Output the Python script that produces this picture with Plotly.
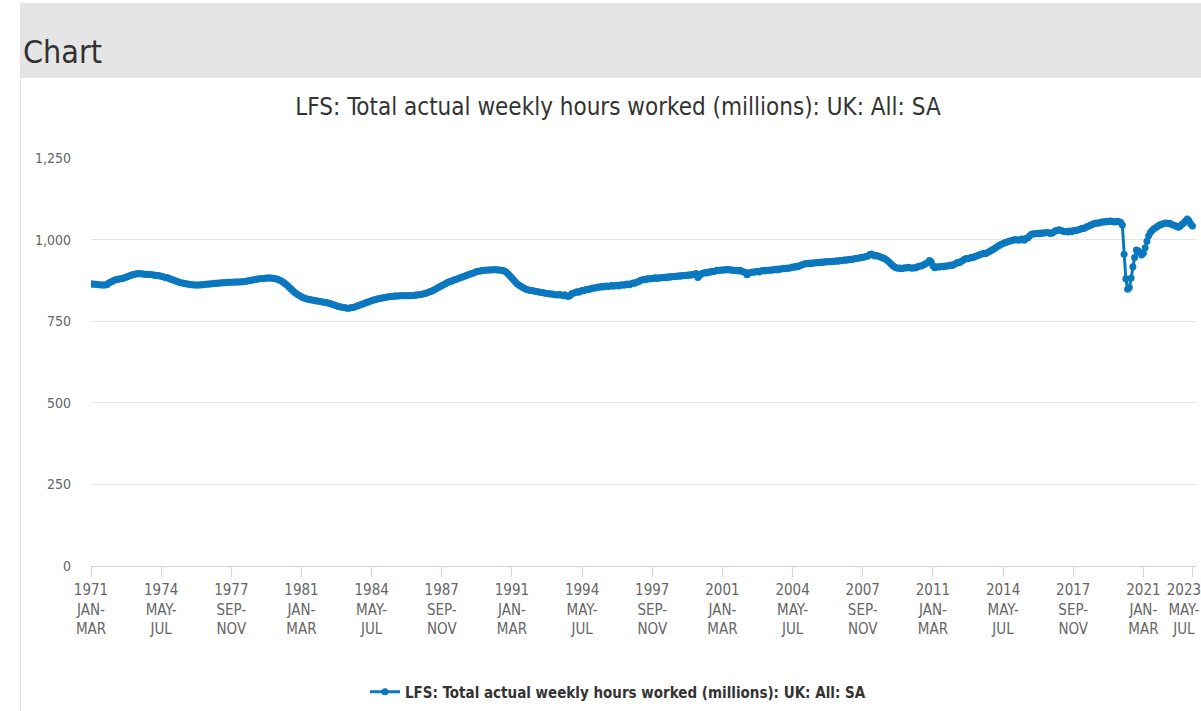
import plotly.graph_objects as go

# Rolling three-month periods, Jan-Mar 1971 to May-Jul 2023 (millions of hours)
hours_1970s = [
    864, 864, 863, 863, 862, 862, 861, 861, 861, 862, 866, 869,  # 1971
    872, 875, 877, 878, 879, 880, 881, 883, 885, 887, 889, 891,  # 1972
    893, 894, 895, 895, 895, 895, 894, 894, 894, 893, 893, 892,  # 1973
    891, 891, 890, 889, 888, 886, 885, 884, 882, 880, 878, 876,  # 1974
    874, 872, 870, 868, 867, 866, 865, 864, 863, 862, 862, 861,  # 1975
    861, 861, 861, 862, 862, 863, 863, 864, 864, 865, 865, 866,  # 1976
    866, 867, 867, 868, 868, 868, 869, 869, 869, 869, 870, 870,  # 1977
    870, 870, 871, 871, 872, 873, 874, 875, 876, 877, 878, 879,  # 1978
    880, 880, 881, 881, 882, 882, 882, 882, 881, 880, 879, 877,  # 1979
]
hours_1980s = [
    875, 872, 868, 864, 859, 854, 849, 844, 839, 835, 831, 828,  # 1980
    825, 822, 820, 818, 817, 816, 815, 814, 813, 812, 811, 810,  # 1981
    809, 808, 807, 806, 805, 803, 801, 799, 797, 795, 794, 793,  # 1982
    792, 791, 790, 790, 791, 792, 793, 795, 797, 799, 801, 803,  # 1983
    805, 807, 809, 811, 813, 815, 816, 818, 819, 820, 821, 822,  # 1984
    823, 824, 825, 826, 826, 827, 827, 827, 828, 828, 828, 828,  # 1985
    828, 828, 828, 829, 829, 830, 830, 831, 832, 833, 834, 836,  # 1986
    838, 840, 842, 844, 847, 850, 853, 856, 859, 862, 865, 868,  # 1987
    870, 872, 874, 876, 878, 880, 882, 884, 886, 888, 890, 892,  # 1988
    894, 896, 898, 900, 902, 903, 904, 905, 906, 906, 907, 907,  # 1989
]
hours_1990s = [
    907, 908, 908, 908, 907, 907, 906, 905, 903, 899, 894, 888,  # 1990
    882, 876, 870, 865, 861, 857, 854, 851, 848, 846, 845, 844,  # 1991
    843, 842, 841, 840, 839, 838, 837, 836, 835, 834, 833, 833,  # 1992
    832, 831, 830, 832, 830, 829, 831, 828, 826, 828, 834, 836,  # 1993
    838, 840, 839, 842, 844, 843, 846, 848, 847, 850, 852, 851,  # 1994
    853, 855, 854, 856, 855, 857, 858, 856, 858, 859, 857, 859,  # 1995
    860, 858, 861, 862, 860, 863, 864, 862, 865, 867, 866, 869,  # 1996
    871, 874, 876, 878, 877, 880, 879, 881, 880, 882, 883, 881,  # 1997
    883, 882, 884, 885, 883, 886, 885, 887, 886, 888, 887, 889,  # 1998
    888, 890, 889, 891, 890, 892, 891, 893, 894, 896, 884, 890,  # 1999
]
hours_2000s = [
    895, 897, 899, 898, 901, 900, 903, 902, 904, 906, 905, 907,  # 2000
    906, 908, 907, 909, 908, 906, 907, 905, 906, 904, 906, 903,  # 2001
    901, 900, 892, 897, 899, 901, 900, 902, 903, 901, 904, 905,  # 2002
    904, 906, 905, 907, 906, 908, 909, 907, 910, 909, 911, 912,  # 2003
    911, 913, 912, 914, 916, 915, 918, 917, 920, 922, 924, 926,  # 2004
    927, 926, 928, 927, 929, 928, 930, 929, 931, 930, 932, 931,  # 2005
    932, 933, 932, 934, 933, 935, 934, 936, 935, 937, 938, 937,  # 2006
    939, 940, 939, 941, 942, 943, 944, 945, 946, 947, 948, 950,  # 2007
    954, 956, 953, 950, 951, 949, 947, 945, 943, 940, 936, 931,  # 2008
    926, 921, 917, 914, 912, 913, 911, 912, 914, 913, 915, 914,  # 2009
]
hours_2010s = [
    912, 914, 913, 916, 918, 919, 921, 924, 927, 930, 936, 932,  # 2010
    920, 914, 916, 917, 916, 918, 917, 919, 918, 920, 922, 921,  # 2011
    924, 927, 930, 929, 933, 936, 940, 942, 941, 944, 946, 945,  # 2012
    948, 950, 952, 954, 956, 958, 957, 960, 963, 966, 969, 972,  # 2013
    976, 980, 983, 986, 988, 990, 992, 994, 996, 997, 999, 1000,  # 2014
    999, 998, 1000, 1002, 998, 1003, 1005, 1010, 1016, 1018, 1017, 1019,  # 2015
    1018, 1020, 1019, 1021, 1020, 1022, 1021, 1019, 1020, 1024, 1027, 1029,  # 2016
    1030, 1028, 1026, 1024, 1025, 1023, 1026, 1024, 1027, 1029, 1028, 1030,  # 2017
    1032, 1035, 1034, 1037, 1040, 1042, 1045, 1047, 1049, 1051, 1050, 1052,  # 2018
    1053, 1055, 1054, 1056, 1055, 1057, 1056, 1055, 1054, 1056, 1055, 1053,  # 2019
]
hours_2020s = [
    1045, 955, 880, 848, 853, 882, 917, 945, 968, 966, 960, 953,  # 2020
    958, 975, 995, 1012, 1022, 1028, 1033, 1036, 1040, 1044, 1046, 1048,  # 2021
    1050, 1051, 1049, 1050, 1046, 1045, 1043, 1040, 1038, 1042, 1047, 1051,  # 2022
    1057, 1063, 1058, 1048, 1042,  # 2023
]

months = ["JAN", "FEB", "MAR", "APR", "MAY", "JUN",
          "JUL", "AUG", "SEP", "OCT", "NOV", "DEC"]
start_year = 1971
tick_step = 40

values = hours_1970s + hours_1980s + hours_1990s + hours_2000s + hours_2010s + hours_2020s

periods = []
tick_lines_all = []
for i in range(len(values)):
    yr = start_year + i // 12
    m = i % 12
    a, b = months[m], months[(m + 2) % 12]
    periods.append(f"{yr} {a}-{b}")
    tick_lines_all.append([str(yr), f"{a}-", b])

tick_idx = list(range(0, len(values), tick_step)) + [len(values) - 1]
tickvals = [periods[i] for i in tick_idx]
ticktext = []
for k, i in enumerate(tick_idx):
    lines = tick_lines_all[i]
    if k == len(tick_idx) - 1:
        # keep the last label inside the chart, as the original does
        lines = [ln + "&nbsp;" * 4 for ln in lines]
    ticktext.append("<br>".join(lines))

series_name = "LFS: Total actual weekly hours worked (millions): UK: All: SA"
FONT = "Liberation Sans Narrow, DejaVu Sans Condensed, Open Sans, sans-serif"
BLUE = "#0a78bf"

fig = go.Figure()
fig.add_trace(go.Scatter(
    x=periods, y=values, name=series_name, mode="lines+markers",
    line=dict(color=BLUE, width=3),
    marker=dict(color=BLUE, size=7, symbol="circle"),
    showlegend=True,
))

W, H = 1201, 711
L, R, T, B = 91, 5, 158, 145
pw, ph = W - L - R, H - T - B

def px(x):
    return (x - L) / pw

def py(y):
    return (H - B - y) / ph

fig.update_layout(
    width=W, height=H,
    margin=dict(l=L, r=R, t=T, b=B, autoexpand=False),
    paper_bgcolor="white", plot_bgcolor="white",
    font=dict(family=FONT, color="#333333"),
    title=dict(text=series_name, x=618 / W, xanchor="center",
               y=1 - 107 / H, yanchor="middle",
               font=dict(size=24, color="#333333", family=FONT)),
    showlegend=True,
    legend=dict(orientation="h", x=px(618), xanchor="center",
                y=py(692), yanchor="middle",
                font=dict(size=15, color="#333333", family=FONT, weight="bold"),
                bgcolor="rgba(0,0,0,0)"),
    shapes=[
        dict(type="rect", xref="paper", yref="paper",
             x0=px(20), x1=px(1201), y0=py(78), y1=py(3),
             fillcolor="#e5e5e5", line=dict(width=0), layer="below"),
        dict(type="line", xref="paper", yref="paper",
             x0=px(20.5), x1=px(20.5), y0=py(78), y1=py(711),
             line=dict(color="#e5e5e5", width=1)),
    ],
    annotations=[
        dict(text="Chart", xref="paper", yref="paper", x=px(21), y=py(52),
             xanchor="left", yanchor="middle", showarrow=False,
             font=dict(size=32, color="#323132", family=FONT)),
    ],
)

fig.update_xaxes(
    type="category", range=[0, len(values) + 1], automargin=False,
    tickmode="array", tickvals=tickvals, ticktext=ticktext,
    showgrid=False, showline=True, linecolor="#ccd6eb", linewidth=1,
    ticks="outside", ticklen=10, tickcolor="#ccd6eb", tickangle=0,
    tickfont=dict(size=15, color="#666666", family=FONT),
)
fig.update_yaxes(
    range=[0, 1250], tickmode="array", tickvals=[0, 250, 500, 750, 1000, 1250],
    tickformat=",", showgrid=True, gridcolor="#e6e6e6", gridwidth=1,
    zeroline=False, showline=False, ticks="", automargin=False,
    ticklabelstandoff=19,
    tickfont=dict(size=14, color="#666666", family=FONT),
)

fig.write_html(
    "out.html",
    config={"displayModeBar": False},
    post_script="document.body.style.margin='0px';document.body.style.overflow='hidden';",
)
